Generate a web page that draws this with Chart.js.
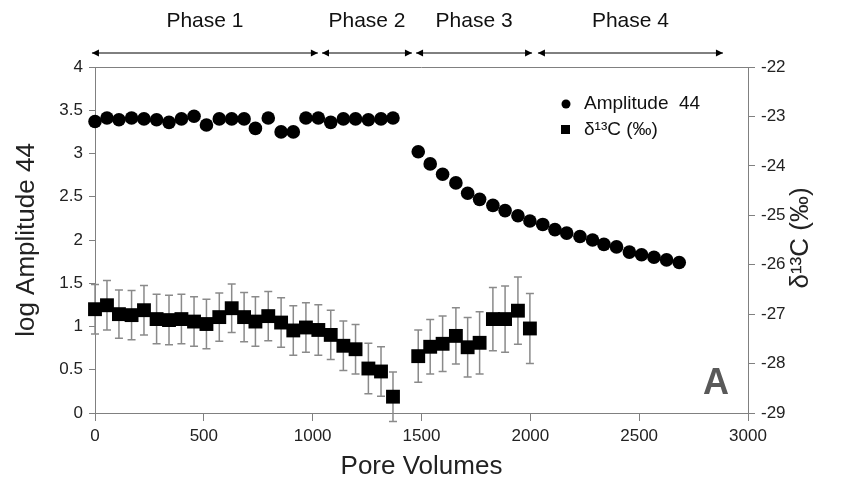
<!DOCTYPE html>
<html>
<head>
<meta charset="utf-8">
<script src="https://cdn.jsdelivr.net/npm/chart.js@4.4.0/dist/chart.umd.min.js"></script>
<style>
  html, body { margin: 0; padding: 0; background: #fff; }
  #wrap { width: 848px; height: 487px; }
</style>
</head>
<body>
<div id="wrap"><canvas id="grafico" width="848" height="487"></canvas></div>
<script>
// Datos
const ampX = [0, 55, 110, 168, 225, 283, 340, 397, 455, 512, 571, 628, 685, 737, 796, 855, 911, 969, 1026, 1083, 1141, 1197, 1256, 1314, 1369,
              1485, 1540, 1597, 1658, 1712, 1767, 1828, 1884, 1943, 1998, 2057, 2113, 2167, 2228, 2286, 2338, 2396, 2455, 2511, 2568, 2626, 2684];
const ampY = [3.37, 3.41, 3.39, 3.41, 3.40, 3.39, 3.36, 3.40, 3.43, 3.33, 3.40, 3.40, 3.40, 3.29, 3.41, 3.25, 3.25, 3.41, 3.41, 3.36, 3.40, 3.40, 3.39, 3.40, 3.41,
              3.02, 2.88, 2.76, 2.66, 2.54, 2.47, 2.40, 2.34, 2.28, 2.22, 2.18, 2.12, 2.08, 2.04, 2.00, 1.95, 1.92, 1.86, 1.83, 1.80, 1.77, 1.74];

const d13cX = [0, 55, 110, 168, 225, 283, 340, 397, 455, 512, 571, 628, 685, 737, 796, 855, 911, 969, 1026, 1083, 1141, 1197, 1256, 1314, 1369,
               1485, 1540, 1597, 1658, 1712, 1767, 1828, 1884, 1943, 1998];
const d13cY = [-26.90, -26.82, -27.00, -27.02, -26.92, -27.10, -27.12, -27.10, -27.15, -27.20, -27.06, -26.88, -27.06, -27.15, -27.04, -27.17, -27.33, -27.27, -27.32, -27.42, -27.64, -27.71, -28.10, -28.16, -28.67,
               -27.85, -27.66, -27.60, -27.44, -27.67, -27.58, -27.10, -27.10, -26.93, -27.29];
const d13cErr = [0.50, 0.50, 0.49, 0.50, 0.50, 0.50, 0.50, 0.50, 0.50, 0.50, 0.49, 0.49, 0.50, 0.50, 0.50, 0.50, 0.50, 0.50, 0.51, 0.50, 0.50, 0.50, 0.51, 0.50, 0.50,
                 0.53, 0.55, 0.56, 0.57, 0.60, 0.63, 0.64, 0.67, 0.68, 0.71];

const phaseLabels = ['Phase 1', 'Phase 2', 'Phase 3', 'Phase 4'];
const phaseStart = [-14, 1043, 1475, 2035];
const phaseEnd = [1024, 1456, 2008, 2885];

const FONT = '"Liberation Sans", Arial, sans-serif';
const GRIS = '#808080';

// Barras de error (eje derecho)
const barrasError = {
    id: 'barrasError',
    beforeDatasetsDraw(chart) {
        const ctx = chart.ctx;
        const meta = chart.getDatasetMeta(1);
        const yScale = chart.scales.y1;
        ctx.save();
        ctx.strokeStyle = '#8a8a8a';
        ctx.lineWidth = 1.5;
        meta.data.forEach((pt, i) => {
            const top = yScale.getPixelForValue(d13cY[i] + d13cErr[i]);
            const bot = yScale.getPixelForValue(d13cY[i] - d13cErr[i]);
            ctx.beginPath();
            ctx.moveTo(pt.x, top); ctx.lineTo(pt.x, bot);
            ctx.moveTo(pt.x - 4, top); ctx.lineTo(pt.x + 4, top);
            ctx.moveTo(pt.x - 4, bot); ctx.lineTo(pt.x + 4, bot);
            ctx.stroke();
        });
        ctx.restore();
    }
};

// Marco superior, fases, leyenda, título derecho y letra A
const extras = {
    id: 'extras',
    afterDraw(chart) {
        const ctx = chart.ctx;
        const area = chart.chartArea;
        const xs = chart.scales.x;
        ctx.save();

        // línea superior del marco
        ctx.strokeStyle = GRIS;
        ctx.lineWidth = 1;
        ctx.beginPath();
        ctx.moveTo(area.left, area.top + 0.5);
        ctx.lineTo(area.right, area.top + 0.5);
        ctx.stroke();

        // flechas de fases
        const ya = 53;
        phaseLabels.forEach((lab, i) => {
            const x1 = xs.getPixelForValue(phaseStart[i]);
            const x2 = xs.getPixelForValue(phaseEnd[i]);
            ctx.strokeStyle = '#000';
            ctx.fillStyle = '#000';
            ctx.beginPath();
            ctx.moveTo(x1, ya); ctx.lineTo(x2, ya);
            ctx.stroke();
            ctx.beginPath();
            ctx.moveTo(x1, ya); ctx.lineTo(x1 + 7, ya - 3.5); ctx.lineTo(x1 + 7, ya + 3.5); ctx.closePath();
            ctx.fill();
            ctx.beginPath();
            ctx.moveTo(x2, ya); ctx.lineTo(x2 - 7, ya - 3.5); ctx.lineTo(x2 - 7, ya + 3.5); ctx.closePath();
            ctx.fill();

            ctx.font = '21px ' + FONT;
            ctx.fillStyle = '#111';
            ctx.textAlign = 'center';
            ctx.textBaseline = 'middle';
            ctx.fillText(lab, (x1 + x2) / 2, 21);
        });

        // leyenda
        ctx.fillStyle = '#000';
        ctx.beginPath();
        ctx.arc(566, 104, 4.5, 0, Math.PI * 2);
        ctx.fill();
        ctx.fillRect(561, 125, 9, 9);
        ctx.font = '19px ' + FONT;
        ctx.fillStyle = '#111';
        ctx.textAlign = 'left';
        ctx.textBaseline = 'middle';
        ctx.fillText('Amplitude  44', 584, 104);
        ctx.fillText('δ¹³C (‰)', 584, 130);

        // título del eje derecho (de abajo hacia arriba)
        ctx.save();
        ctx.translate(801, (area.top + area.bottom) / 2 - 2);
        ctx.rotate(-Math.PI / 2);
        ctx.font = '26px ' + FONT;
        ctx.fillStyle = '#222';
        ctx.textAlign = 'center';
        ctx.fillText('δ¹³C (‰)', 0, 0);
        ctx.restore();

        // letra A
        ctx.font = 'bold 36px ' + FONT;
        ctx.fillStyle = '#595959';
        ctx.textAlign = 'center';
        ctx.textBaseline = 'middle';
        ctx.fillText('A', 716, 384);
        ctx.restore();
    }
};

window.onload = function() {
    const ctx = document.getElementById('grafico').getContext('2d');
    const tickFont = { family: FONT, size: 17 };
    const titleFont = { family: FONT, size: 26 };
    const simple = (v) => String(v);

    new Chart(ctx, {
        type: 'scatter',
        data: {
            datasets: [{
                label: 'Amplitude 44',
                data: ampX.map((x, i) => ({ x: x, y: ampY[i] })),
                yAxisID: 'y',
                pointStyle: 'circle',
                pointRadius: 6.8,
                backgroundColor: '#000',
                borderColor: '#000',
                borderWidth: 0,
                clip: false
            }, {
                label: 'δ¹³C (‰)',
                data: d13cX.map((x, i) => ({ x: x, y: d13cY[i] })),
                yAxisID: 'y1',
                pointStyle: 'rect',
                pointRadius: 9.8,
                backgroundColor: '#000',
                borderColor: '#000',
                borderWidth: 0,
                clip: false
            }]
        },
        options: {
            responsive: false,
            animation: false,
            layout: { padding: { top: 67, left: 0, right: 0, bottom: 0 } },
            plugins: {
                legend: { display: false },
                tooltip: { enabled: false }
            },
            scales: {
                x: {
                    type: 'linear',
                    min: 0,
                    max: 3000,
                    ticks: { stepSize: 500, font: tickFont, color: '#222', padding: 5, maxRotation: 0, callback: simple },
                    grid: { drawOnChartArea: false, drawTicks: true, tickLength: 8, color: GRIS },
                    border: { display: true, color: GRIS, width: 1 },
                    title: { display: true, text: 'Pore Volumes', font: titleFont, color: '#222', padding: { top: 0, bottom: 5 } },
                    afterFit: (s) => { s.height = 74; }
                },
                y: {
                    position: 'left',
                    min: 0,
                    max: 4,
                    ticks: { stepSize: 0.5, font: tickFont, color: '#222', padding: 6, callback: simple },
                    grid: { drawOnChartArea: false, drawTicks: true, tickLength: 6, color: GRIS },
                    border: { display: true, color: GRIS, width: 1 },
                    title: { display: true, text: 'log Amplitude 44', font: titleFont, color: '#222', padding: { top: 11, bottom: 0 } },
                    afterFit: (s) => { s.width = 95; }
                },
                y1: {
                    position: 'right',
                    min: -29,
                    max: -22,
                    ticks: { stepSize: 1, font: tickFont, color: '#222', padding: 6, callback: simple },
                    grid: { drawOnChartArea: false, drawTicks: true, tickLength: 7, color: GRIS },
                    border: { display: true, color: GRIS, width: 1 },
                    afterFit: (s) => { s.width = 100; }
                }
            }
        },
        plugins: [barrasError, extras]
    });
};
</script>
</body>
</html>
